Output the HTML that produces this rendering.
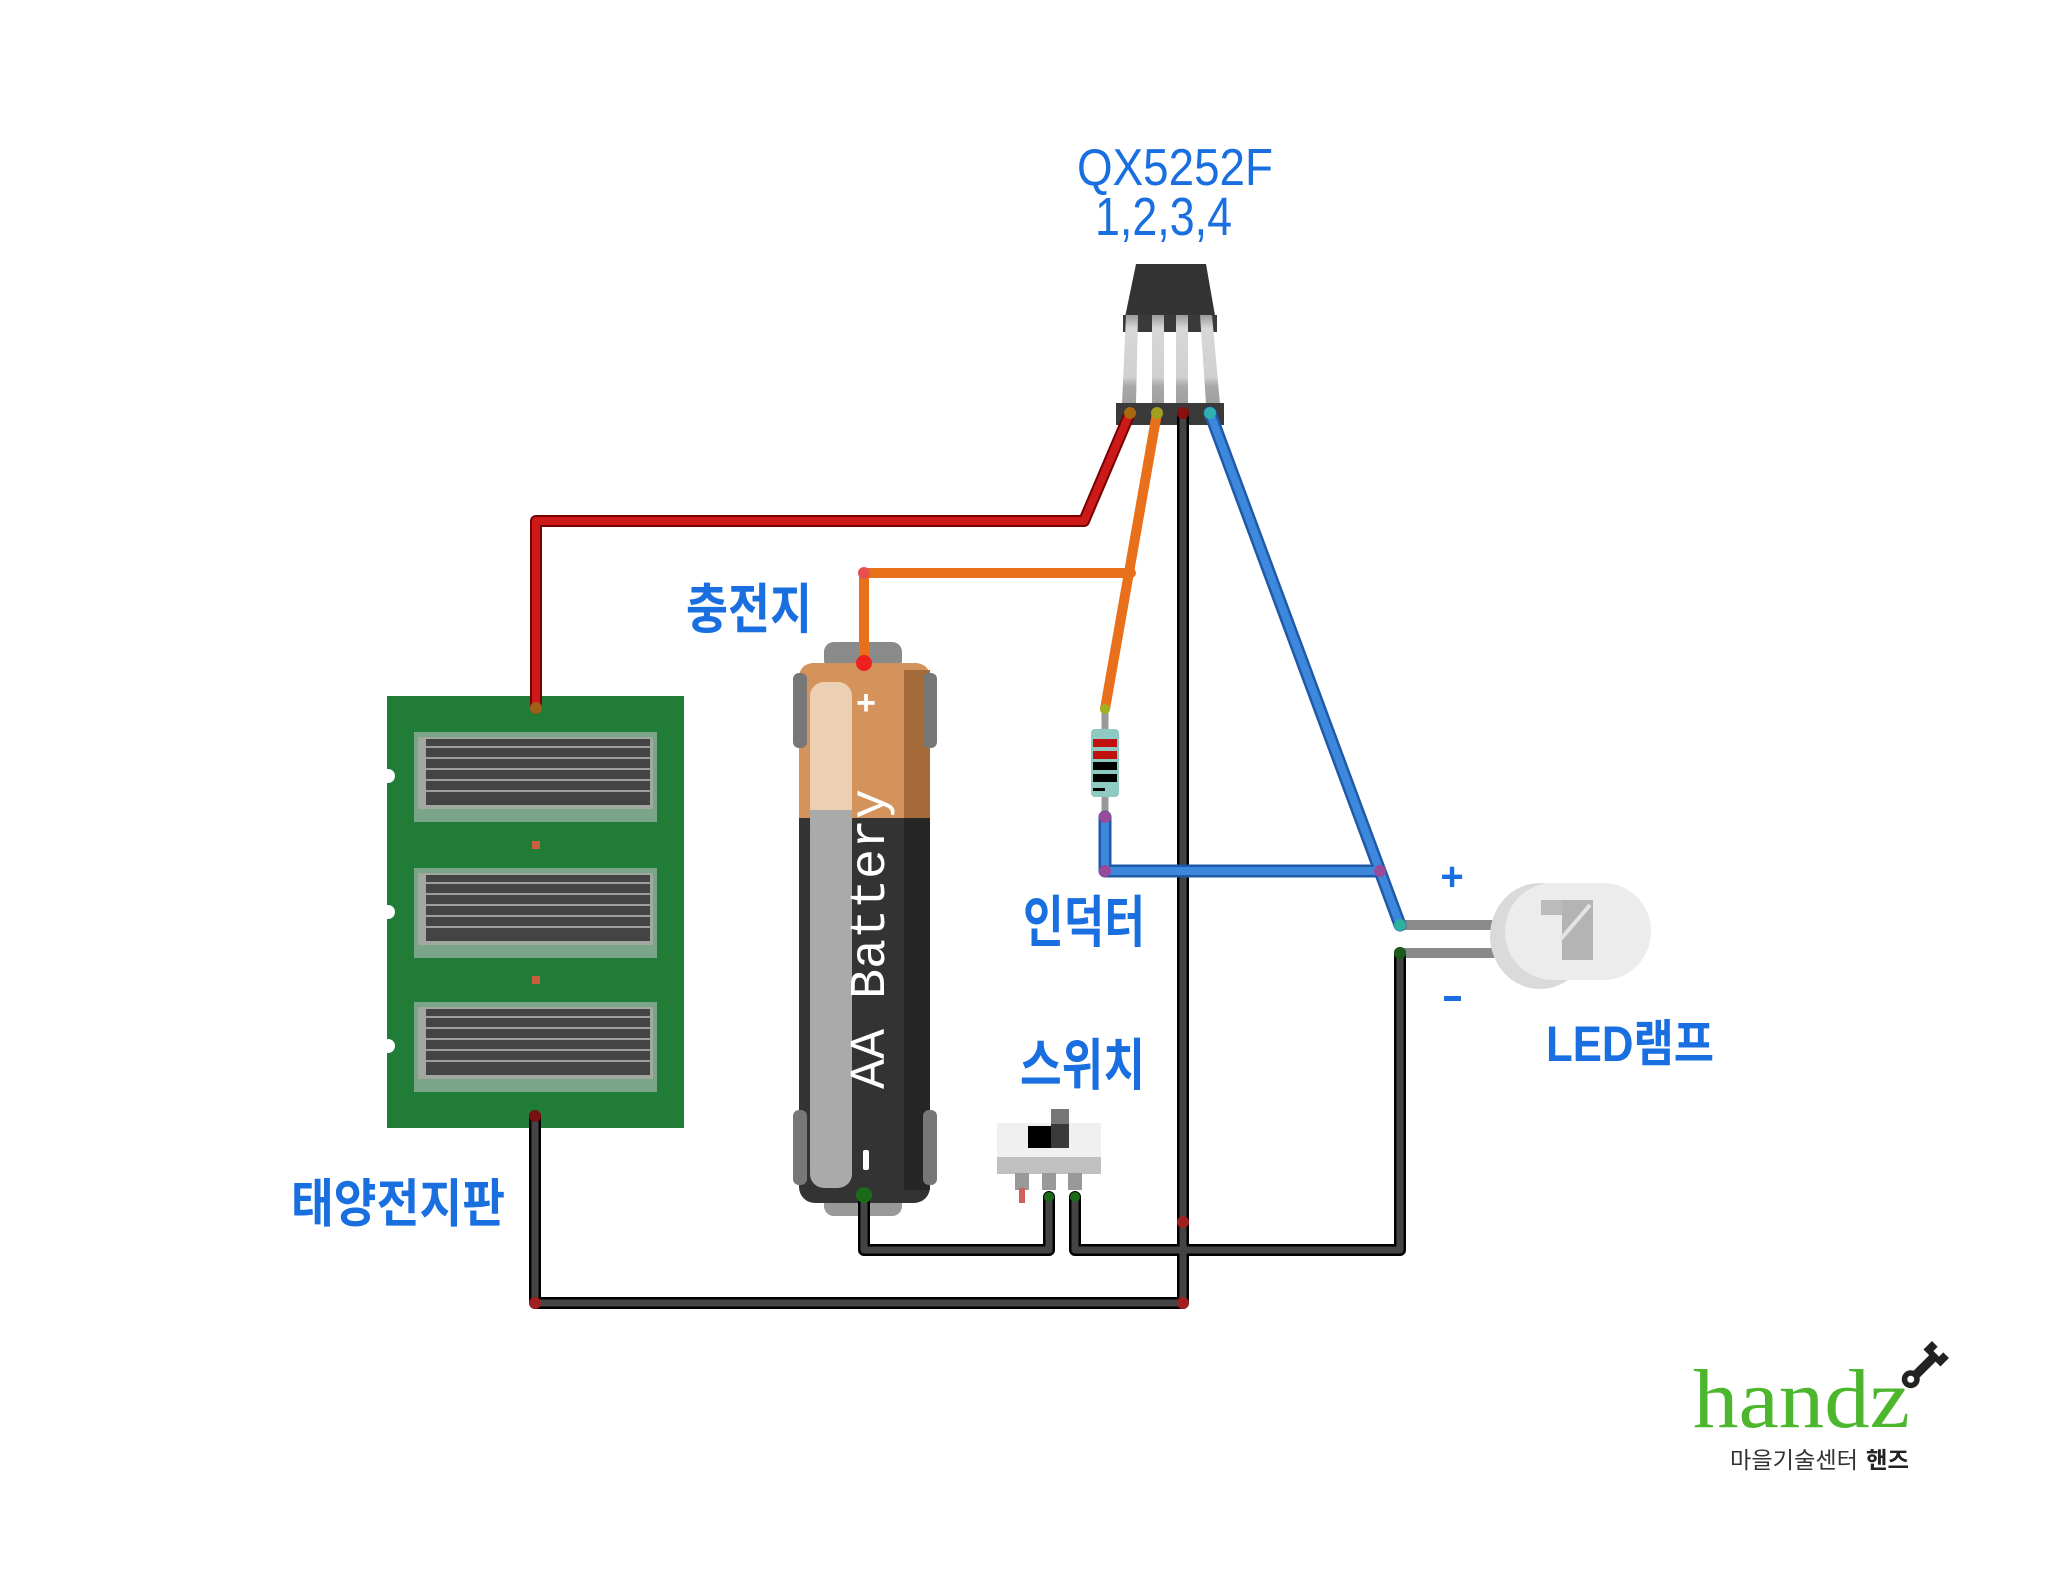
<!DOCTYPE html>
<html><head><meta charset="utf-8"><style>
html,body{margin:0;padding:0;background:#fff;}
svg{display:block;}
.lbl{font-family:"Liberation Sans","Noto Sans CJK KR",sans-serif;fill:#1a6fe0;font-weight:bold;}
</style></head><body>
<svg width="2050" height="1592" viewBox="0 0 2050 1592" xmlns="http://www.w3.org/2000/svg">
<rect width="2050" height="1592" fill="#fff"/>

<text x="1077" y="185" font-family="Liberation Sans, sans-serif" font-size="52" fill="#1a6fe0" textLength="196" lengthAdjust="spacingAndGlyphs">QX5252F</text>
<text x="1095" y="235" font-family="Liberation Sans, sans-serif" font-size="54" fill="#1a6fe0" textLength="137" lengthAdjust="spacingAndGlyphs">1,2,3,4</text>

<polygon points="1136,264 1206,264 1217,327 1123,327" fill="#333"/>
<rect x="1123" y="315" width="94" height="17" fill="#3a3a3a"/>
<defs>
<linearGradient id="leg" x1="0" y1="0" x2="0" y2="1">
<stop offset="0" stop-color="#999"/><stop offset="0.15" stop-color="#d8d8d8"/><stop offset="0.7" stop-color="#d0d0d0"/><stop offset="0.8" stop-color="#a8a8a8"/><stop offset="1" stop-color="#a0a0a0"/>
</linearGradient>
</defs>
<polygon points="1126,315 1138,315 1136,404 1122,404" fill="url(#leg)"/>
<rect x="1152" y="315" width="12" height="89" fill="url(#leg)"/>
<rect x="1176" y="315" width="12" height="89" fill="url(#leg)"/>
<polygon points="1200,315 1212,315 1220,404 1206,404" fill="url(#leg)"/>
<rect x="1116" y="403" width="108" height="22" fill="#3a3a3a"/>

<rect x="387" y="696" width="297" height="432" fill="#217c38"/>
<circle cx="388" cy="776" r="7" fill="#fff"/>
<circle cx="388" cy="912" r="7" fill="#fff"/>
<circle cx="388" cy="1046" r="7" fill="#fff"/>
<g>
<rect x="414" y="732" width="243" height="90" fill="#7aa588"/>
<rect x="418" y="737" width="235" height="72" fill="#a0a8a0"/>
<rect x="426" y="739" width="224" height="66" fill="#444"/>
<g stroke="#bbb" stroke-width="1.5"><line x1="426" y1="747" x2="650" y2="747"/><line x1="426" y1="758" x2="650" y2="758"/><line x1="426" y1="769" x2="650" y2="769"/><line x1="426" y1="780" x2="650" y2="780"/><line x1="426" y1="791" x2="650" y2="791"/></g>
</g>
<g transform="translate(0,136)">
<rect x="414" y="732" width="243" height="90" fill="#7aa588"/>
<rect x="418" y="737" width="235" height="72" fill="#a0a8a0"/>
<rect x="426" y="739" width="224" height="66" fill="#444"/>
<g stroke="#bbb" stroke-width="1.5"><line x1="426" y1="747" x2="650" y2="747"/><line x1="426" y1="758" x2="650" y2="758"/><line x1="426" y1="769" x2="650" y2="769"/><line x1="426" y1="780" x2="650" y2="780"/><line x1="426" y1="791" x2="650" y2="791"/></g>
</g>
<g transform="translate(0,270)">
<rect x="414" y="732" width="243" height="90" fill="#7aa588"/>
<rect x="418" y="737" width="235" height="72" fill="#a0a8a0"/>
<rect x="426" y="739" width="224" height="66" fill="#444"/>
<g stroke="#bbb" stroke-width="1.5"><line x1="426" y1="747" x2="650" y2="747"/><line x1="426" y1="758" x2="650" y2="758"/><line x1="426" y1="769" x2="650" y2="769"/><line x1="426" y1="780" x2="650" y2="780"/><line x1="426" y1="791" x2="650" y2="791"/></g>
</g>
<rect x="532" y="841" width="8" height="8" fill="#c86040"/>
<rect x="532" y="976" width="8" height="8" fill="#c86040"/>

<rect x="824" y="642" width="78" height="28" rx="10" fill="#8a8a8a"/>
<rect x="824" y="1190" width="78" height="26" rx="10" fill="#999"/>
<rect x="799" y="663" width="131" height="540" rx="16" fill="#333"/>
<path d="M815,663 H914 Q930,663 930,679 V818 H799 V679 Q799,663 815,663 Z" fill="#d4935a"/>
<rect x="904" y="670" width="26" height="148" fill="#a46a3a"/>
<rect x="904" y="818" width="26" height="372" fill="#262626"/>
<rect x="810" y="682" width="42" height="140" rx="14" fill="#ecd0b4"/>
<rect x="810" y="818" width="42" height="370" rx="14" fill="#aaa"/>
<rect x="810" y="810" width="42" height="20" fill="#aaa"/>
<rect x="793" y="673" width="14" height="75" rx="6" fill="#777"/>
<rect x="923" y="673" width="14" height="75" rx="6" fill="#777"/>
<rect x="793" y="1110" width="14" height="75" rx="6" fill="#777"/>
<rect x="923" y="1110" width="14" height="75" rx="6" fill="#777"/>
<text transform="translate(884,1089) rotate(-90)" font-family="Liberation Mono, monospace" font-size="50" fill="#fff" textLength="300" lengthAdjust="spacingAndGlyphs">AA Battery</text>
<text x="866" y="714" text-anchor="middle" font-family="Liberation Sans, sans-serif" font-size="34" font-weight="bold" fill="#fff">+</text>
<rect x="863" y="1150" width="6" height="20" rx="2" fill="#fff"/>

<rect x="997" y="1123" width="104" height="36" fill="#f0f0f0"/>
<rect x="997" y="1157" width="104" height="17" fill="#c0c0c0"/>
<rect x="1028" y="1126" width="24" height="22" fill="#000"/>
<rect x="1051" y="1109" width="18" height="39" fill="#3a3a3a"/>
<rect x="1051" y="1109" width="18" height="15" fill="#777"/>
<rect x="1015" y="1173" width="14" height="17" fill="#999"/>
<rect x="1042" y="1173" width="14" height="17" fill="#999"/>
<rect x="1068" y="1173" width="14" height="17" fill="#999"/>
<rect x="1019" y="1188" width="6" height="15" fill="#d06060"/>

<line x1="1105" y1="709" x2="1105" y2="817" stroke="#999" stroke-width="7"/>
<rect x="1091" y="729" width="28" height="68" rx="4" fill="#8ccac2"/>
<rect x="1093" y="739" width="24" height="8" fill="#c01010"/>
<rect x="1093" y="751" width="24" height="8" fill="#c01010"/>
<rect x="1093" y="762" width="24" height="8" fill="#000"/>
<rect x="1093" y="774" width="24" height="8" fill="#000"/>
<rect x="1093" y="788" width="12" height="3" fill="#000"/>

<rect x="1400" y="920" width="95" height="10" fill="#8a8a8a"/>
<rect x="1400" y="948" width="95" height="10" fill="#8a8a8a"/>
<ellipse cx="1540" cy="936" rx="50" ry="53" fill="#dadada"/>
<rect x="1505" y="883" width="146" height="97" rx="48" fill="#ececec"/>
<rect x="1541" y="900" width="52" height="15" fill="#bbb"/>
<rect x="1562" y="900" width="31" height="60" fill="#b4b4b4"/>
<line x1="1560" y1="940" x2="1590" y2="905" stroke="#e4e4e4" stroke-width="4"/>

<g fill="none" stroke-linejoin="round" stroke-linecap="round">
<path d="M536,708 L536,521 L1084,521 L1130,413" stroke="#7a0000" stroke-width="12"/>
<path d="M536,708 L536,521 L1084,521 L1130,413" stroke="#cc1a1a" stroke-width="8"/>
<path d="M864,661 L864,573 L1131,573 M1157,413 L1105,709" stroke="#e8701a" stroke-width="10"/>
<path d="M1183,413 L1183,1303 M535,1116 L535,1303 L1183,1303 M864,1195 L864,1250 L1049,1250 L1049,1197 M1075,1197 L1075,1250 L1400,1250 L1400,953" stroke="#000" stroke-width="12"/>
<path d="M1183,413 L1183,1303 M535,1116 L535,1303 L1183,1303 M864,1195 L864,1250 L1049,1250 L1049,1197 M1075,1197 L1075,1250 L1400,1250 L1400,953" stroke="#444" stroke-width="7"/>
<path d="M1210,413 L1400,925 M1105,817 L1105,871 L1380,871" stroke="#1e5aa8" stroke-width="13"/>
<path d="M1210,413 L1400,925 M1105,817 L1105,871 L1380,871" stroke="#3d88dc" stroke-width="8"/>
</g>
<circle cx="1130" cy="413" r="6" fill="#a86a10"/>
<circle cx="1157" cy="413" r="6" fill="#a0a020"/>
<circle cx="1183" cy="413" r="6" fill="#8a1010"/>
<circle cx="1210" cy="413" r="6" fill="#30b0b0"/>
<circle cx="864" cy="663" r="8" fill="#ee2020"/>
<circle cx="864" cy="573" r="6" fill="#e85050"/>
<circle cx="536" cy="708" r="6" fill="#a0601a"/>
<circle cx="535" cy="1116" r="6" fill="#7a1010"/>
<circle cx="864" cy="1195" r="8" fill="#1a6a1a"/>
<circle cx="1105" cy="709" r="5" fill="#a0b020"/>
<circle cx="1105" cy="817" r="6" fill="#9a4a9a"/>
<circle cx="1105" cy="871" r="6" fill="#9a4a9a"/>
<circle cx="1380" cy="871" r="6" fill="#9a4a9a"/>
<circle cx="1400" cy="925" r="6" fill="#30b0a0"/>
<circle cx="1400" cy="953" r="6" fill="#1a5a1a"/>
<circle cx="1049" cy="1197" r="5" fill="#1a6a1a"/>
<circle cx="1075" cy="1197" r="5" fill="#1a6a1a"/>
<circle cx="1183" cy="1222" r="6" fill="#a02020"/>
<circle cx="535" cy="1303" r="6" fill="#a02020"/>
<circle cx="1183" cy="1303" r="6" fill="#a02020"/>

<text class="lbl" x="686" y="628" font-size="54" textLength="126" lengthAdjust="spacingAndGlyphs">충전지</text>
<text class="lbl" x="291" y="1222" font-size="52" textLength="214" lengthAdjust="spacingAndGlyphs">태양전지판</text>
<text class="lbl" x="1023" y="942" font-size="56" textLength="122" lengthAdjust="spacingAndGlyphs">인덕터</text>
<text class="lbl" x="1020" y="1085" font-size="56" textLength="125" lengthAdjust="spacingAndGlyphs">스위치</text>
<text class="lbl" x="1546" y="1061" font-size="50" textLength="168" lengthAdjust="spacingAndGlyphs">LED램프</text>
<text x="1452" y="890" text-anchor="middle" font-family="Liberation Sans, sans-serif" font-size="40" font-weight="bold" fill="#1a6fe0">+</text>
<rect x="1444" y="996" width="17" height="5" fill="#1a6fe0"/>

<text x="1693" y="1427" font-family="Liberation Serif, serif" font-size="84" fill="#4cb62c" textLength="217" lengthAdjust="spacingAndGlyphs">handz</text>
<g transform="translate(1915,1375) rotate(-45)">
<rect x="-5" y="-4" width="32" height="9" fill="#222"/>
<circle cx="-6" cy="0" r="9" fill="#222"/><circle cx="-6" cy="0" r="3.5" fill="#fff"/>
<path d="M24,-12 L36,-12 L36,-4 L30,-4 L30,4 L36,4 L36,12 L24,12 Z" fill="#222"/>
</g>
<text x="1730" y="1468" font-family="Noto Sans CJK KR, sans-serif" font-size="23" fill="#333" textLength="128" lengthAdjust="spacingAndGlyphs">마을기술센터</text>
<text x="1866" y="1468" font-family="Noto Sans CJK KR, sans-serif" font-size="23" font-weight="bold" fill="#222" textLength="43" lengthAdjust="spacingAndGlyphs">핸즈</text>
</svg>
</body></html>
